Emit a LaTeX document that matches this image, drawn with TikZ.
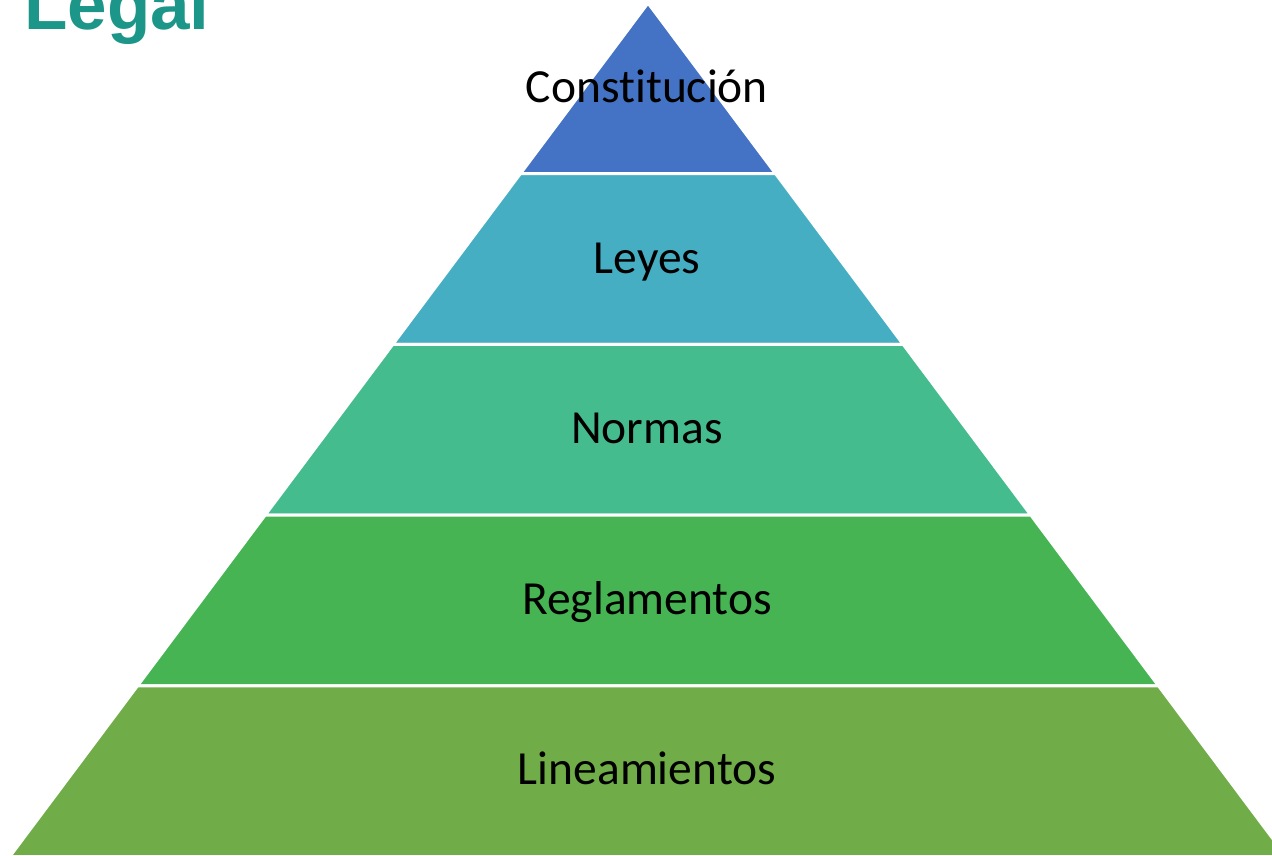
\documentclass[tikz,border=0pt]{standalone}
\usepackage{fontspec}
\setmainfont{Carlito}[RawFeature=-liga]
\newfontfamily\titlefont{Liberation Sans}
\definecolor{cA}{RGB}{68,114,196}
\definecolor{cB}{RGB}{70,174,194}
\definecolor{cC}{RGB}{69,188,142}
\definecolor{cD}{RGB}{71,180,83}
\definecolor{cE}{RGB}{112,172,71}
\definecolor{teal}{RGB}{27,150,136}
\tikzset{
  layer/.style={draw=white, line width=3pt, line join=round},
  lbl/.style={anchor=base, inner sep=0pt, font=\fontsize{47.5}{50}\selectfont, text=black},
}
\begin{document}
\begin{tikzpicture}[x=1pt,y=-1pt]
\useasboundingbox (0,0) rectangle (1272,855);
\clip (0,0) rectangle (1272,855);
% apex at (648,3); slope 0.7477 px per px; layers of height 170.7
\def\ax{648}
\foreach \i/\c in {0/cA,1/cB,2/cC,3/cD,4/cE}{
  \pgfmathsetmacro{\ya}{3+170.7*\i}
  \pgfmathsetmacro{\yb}{3+170.7*(\i+1)}
  \pgfmathsetmacro{\wa}{0.7477*(\ya-3)}
  \pgfmathsetmacro{\wb}{0.7477*(\yb-3)}
  \filldraw[layer, fill=\c] (\ax-\wa,\ya) -- (\ax+\wa,\ya) -- (\ax+\wb,\yb) -- (\ax-\wb,\yb) -- cycle;
}
\node[lbl] (l1) at (647,102) {Constitución};
\node[lbl] (l2) at (647,273) {Leyes};
\node[lbl] (l3) at (647,443) {Normas};
\node[lbl] (l4) at (647,614) {Reglamentos};
\node[lbl] (l5) at (647,784) {Lineamientos};
\node[anchor=base west, inner sep=0pt, text=teal, font=\titlefont\bfseries\fontsize{71}{74}\selectfont] (title) at (24,29) {Legal};
\end{tikzpicture}
\end{document}
